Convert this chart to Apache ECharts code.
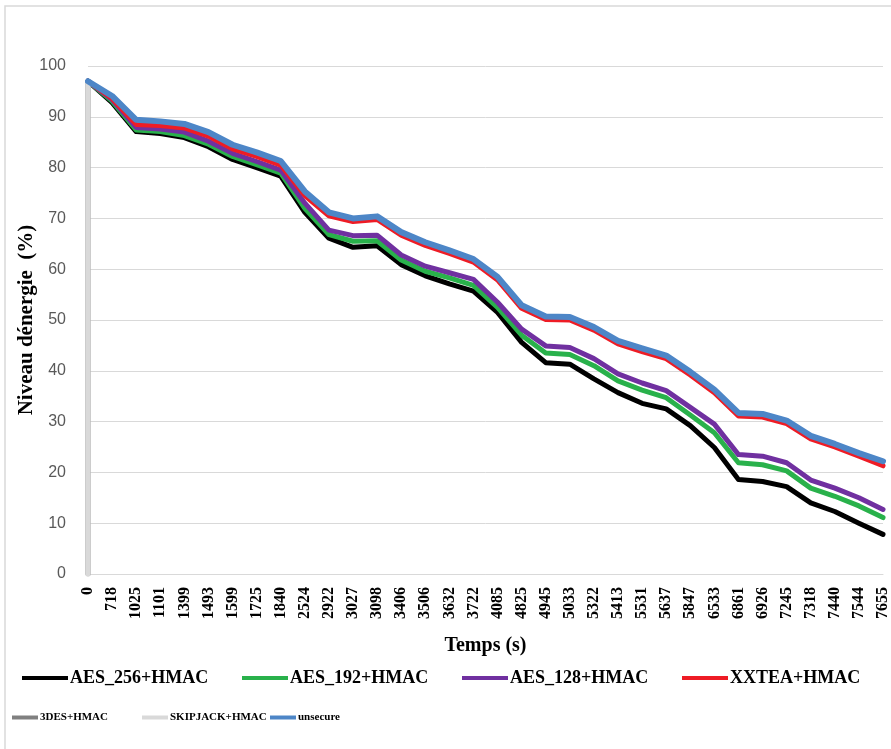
<!DOCTYPE html>
<html>
<head>
<meta charset="utf-8">
<script src="https://cdn.jsdelivr.net/npm/echarts@6/dist/echarts.min.js"></script>
<style>
  html, body { margin: 0; padding: 0; background: #fff; }
  #energy_chart { width: 891px; height: 749px; }
</style>
</head>
<body>
<div id="energy_chart"></div>
<script>
// time labels (s), one category per label
const times = ['0', '718', '1025', '1101', '1399', '1493', '1599', '1725', '1840', '2524', '2922',
  '3027', '3098', '3406', '3506', '3632', '3722', '4085', '4825', '4945', '5033', '5322', '5413',
  '5531', '5637', '5847', '6533', '6861', '6926', '7245', '7318', '7440', '7544', '7655'];

// energy level (%)
const aes256 = [97, 92.8, 87.1, 86.7, 85.9, 84.1, 81.6, 80.0, 78.3, 71.2, 66.1, 64.3, 64.6, 60.9, 58.7,
  57.1, 55.7, 51.5, 45.6, 41.6, 41.3, 38.4, 35.7, 33.6, 32.5, 29.2, 24.9, 18.6, 18.2, 17.2, 14.0, 12.3, 10.0, 7.8];
const aes192 = [97, 93.1, 87.4, 87.1, 86.3, 84.6, 82.2, 80.6, 78.9, 72.0, 66.8, 65.5, 65.6, 61.8, 59.6,
  58.3, 56.8, 52.5, 47.0, 43.5, 43.2, 41.0, 38.0, 36.2, 34.7, 31.3, 27.8, 21.9, 21.5, 20.3, 16.9, 15.3, 13.4, 11.1];
const aes128 = [97, 93.4, 87.9, 87.6, 87.0, 85.2, 82.8, 81.2, 79.5, 73.0, 67.7, 66.6, 66.7, 62.8, 60.6,
  59.3, 58.0, 53.5, 48.2, 44.9, 44.6, 42.4, 39.4, 37.6, 36.1, 32.8, 29.5, 23.5, 23.2, 21.9, 18.5, 16.9, 15.0, 12.7];
const xxtea = [97, 93.6, 88.5, 88.3, 87.8, 86.2, 83.7, 82.2, 80.5, 74.5, 70.5, 69.4, 69.8, 66.7, 64.7,
  63.1, 61.4, 57.9, 52.3, 50.1, 50.0, 48.0, 45.3, 43.8, 42.4, 39.2, 35.7, 31.1, 30.9, 29.6, 26.6, 25.0, 23.2, 21.3];
// 3DES and SKIPJACK drop to 0 right at t = 0
const des3 = [97, 0];
const skipjack = [97, 0];
const unsecure = [97, 94.1, 89.4, 89.1, 88.6, 87.0, 84.5, 83.0, 81.3, 75.3, 71.2, 70.0, 70.4, 67.3, 65.3,
  63.7, 62.0, 58.5, 52.9, 50.7, 50.6, 48.6, 45.9, 44.4, 43.0, 39.8, 36.3, 31.7, 31.5, 30.2, 27.2, 25.6, 23.8, 22.2];

const names = ['AES_256+HMAC', 'AES_192+HMAC', 'AES_128+HMAC', 'XXTEA+HMAC', '3DES+HMAC', 'SKIPJACK+HMAC', 'unsecure'];
const colors = ['#000000', '#29b14b', '#7030a0', '#ee1c25', '#808080', '#d9d9d9', '#4d86c7'];

const serif = 'Liberation Serif, Times New Roman, serif';

const lineSeries = (name, data, color, width = 5) => ({
  name,
  type: 'line',
  data,
  showSymbol: false,
  symbol: 'none',
  lineStyle: { width, color, cap: 'round', join: 'round' },
  itemStyle: { color },
  emphasis: { disabled: true },
});

// one legend per entry so the two rows sit where they do in the figure
const legendPos = [
  { left: 22, top: 669, w: 46, size: 18 },
  { left: 242, top: 669, w: 46, size: 18 },
  { left: 462, top: 669, w: 46, size: 18 },
  { left: 682, top: 669, w: 46, size: 18 },
  { left: 12, top: 712, w: 26, size: 11 },
  { left: 142, top: 712, w: 26, size: 11 },
  { left: 270, top: 712, w: 26, size: 11 },
];
const legends = names.map((n, i) => ({
  data: [n],
  left: legendPos[i].left,
  top: legendPos[i].top,
  padding: 0,
  icon: 'rect',
  itemWidth: legendPos[i].w,
  itemHeight: 4,
  selectedMode: false,
  textStyle: { fontFamily: serif, fontWeight: 'bold', fontSize: legendPos[i].size, color: '#000', padding: [0, 0, 0, -3] },
}));

const chart = echarts.init(document.getElementById('energy_chart'), null, { renderer: 'canvas' });
chart.setOption({
  animation: false,
  backgroundColor: '#fff',
  graphic: [{
    type: 'rect',
    shape: { x: 5, y: 6, width: 900, height: 800 },
    style: { fill: 'none', stroke: '#d9d9d9', lineWidth: 1.5 },
    silent: true,
  }],
  grid: { left: 88, right: 7, top: 66, bottom: 175 },
  legend: legends,
  tooltip: { show: false },
  xAxis: {
    type: 'category',
    data: times,
    boundaryGap: false,
    name: 'Temps (s)',
    nameLocation: 'middle',
    nameGap: 62,
    nameTextStyle: { fontFamily: serif, fontWeight: 'bold', fontSize: 20, color: '#000' },
    axisLine: { lineStyle: { color: '#d9d9d9', width: 1 } },
    axisTick: { show: false },
    axisLabel: {
      interval: 0,
      rotate: 90,
      margin: 13,
      fontFamily: serif,
      fontWeight: 'bold',
      fontSize: 16,
      color: '#000',
    },
    splitLine: { show: false },
  },
  yAxis: {
    type: 'value',
    min: 0,
    max: 100,
    interval: 10,
    name: 'Niveau dénergie  (%)',
    nameLocation: 'middle',
    nameGap: 51,
    nameMoveOverlap: false,
    nameTextStyle: { fontFamily: serif, fontWeight: 'bold', fontSize: 21, color: '#000' },
    axisLine: { show: false },
    axisTick: { show: false },
    axisLabel: { margin: 22, fontFamily: 'Liberation Sans, Arial, sans-serif', fontSize: 16, color: '#595959' },
    splitLine: { lineStyle: { color: '#d9d9d9', width: 1 } },
  },
  series: [
    lineSeries(names[0], aes256, colors[0]),
    lineSeries(names[1], aes192, colors[1]),
    lineSeries(names[2], aes128, colors[2]),
    lineSeries(names[3], xxtea, colors[3]),
    lineSeries(names[4], des3.map(v => [times[0], v]), colors[4]),
    lineSeries(names[5], skipjack.map(v => [times[0], v]), colors[5]),
    lineSeries(names[6], unsecure, colors[6], 6),
  ],
});
</script>
</body>
</html>
